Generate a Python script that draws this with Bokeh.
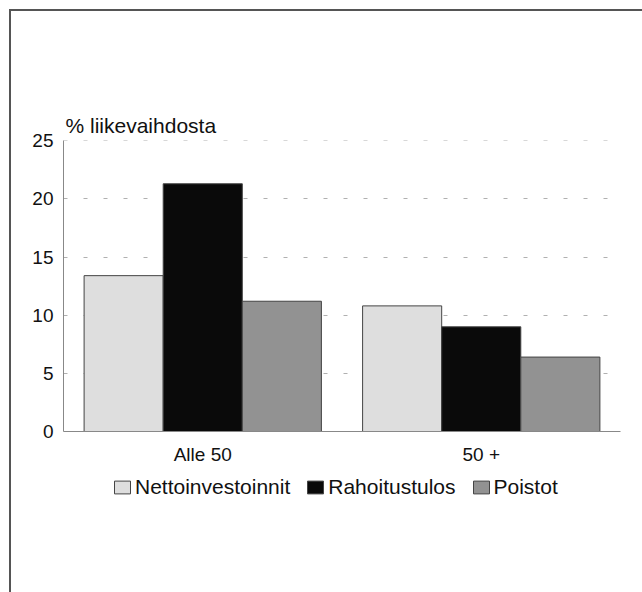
from bokeh.plotting import figure
from bokeh.models import FactorRange, ColumnDataSource, Legend, LegendItem, Range1d
from bokeh.layouts import column
from bokeh.transform import dodge
from bokeh.embed import file_html
from bokeh.resources import INLINE

categories = ["Alle 50", "50 +"]
series_names = ["Nettoinvestoinnit", "Rahoitustulos", "Poistot"]
nettoinvestoinnit = [13.4, 10.8]
rahoitustulos = [21.3, 9.0]
poistot = [11.2, 6.4]
y_ticks = [0, 5, 10, 15, 20, 25]
y_title = "% liikevaihdosta"

FONT = "Liberation Sans"
colors = ["#dedede", "#0a0a0a", "#929292"]
cols = ["netto", "rahoitus", "poistot"]

source = ColumnDataSource(data=dict(
    cat=categories,
    netto=nettoinvestoinnit,
    rahoitus=rahoitustulos,
    poistot=poistot,
))

p = figure(
    x_range=FactorRange(factors=categories, range_padding=0),
    y_range=(0, 25.02),
    frame_width=557, frame_height=291,
    min_border_left=52, min_border_right=22,
    min_border_top=129, min_border_bottom=40,
    output_backend="svg", toolbar_location=None,
    title=y_title,
)

p.title.text_font = FONT
p.title.text_font_size = "21px"
p.title.text_font_style = "normal"
p.title.align = "left"
p.title.offset = 2
p.title.standoff = 8
p.title.text_color = "#111111"

w = 0.284
offsets = [-w, 0.0, w]
for col, off, color in zip(cols, offsets, colors):
    p.vbar(x=dodge("cat", off, range=p.x_range), top=col, width=w, source=source,
           fill_color=color, line_color="#444444", line_width=1)

p.yaxis.ticker = y_ticks
p.yaxis.major_tick_line_color = None
p.yaxis.minor_tick_line_color = None
p.yaxis.major_tick_out = 0
p.yaxis.major_label_standoff = 10
p.yaxis.axis_line_color = "#888888"
p.yaxis.major_label_text_font = FONT
p.yaxis.major_label_text_font_size = "19px"
p.yaxis.major_label_text_color = "#111111"

p.xaxis.major_tick_line_color = None
p.xaxis.major_tick_out = 0
p.xaxis.major_label_standoff = 12
p.xaxis.axis_line_color = "#888888"
p.xaxis.major_label_text_font = FONT
p.xaxis.major_label_text_font_size = "19px"
p.xaxis.major_label_text_color = "#111111"

p.xgrid.grid_line_color = None
p.ygrid.grid_line_color = "#b0b0b0"
p.ygrid.grid_line_dash = "4 16"
p.ygrid.grid_line_width = 1
p.outline_line_color = None

# legend strip as a second figure (its bars lie outside its visible range)
lg = figure(width=631, height=121, min_border=0,
            x_range=Range1d(0, 1), y_range=Range1d(0, 1),
            output_backend="svg", toolbar_location=None)
lg.axis.visible = False
lg.grid.visible = False
lg.outline_line_color = None
dummy = ColumnDataSource(data=dict(x=[-5], top=[-5]))
leg_renderers = []
for color in colors:
    r = lg.vbar(x="x", top="top", width=0.1, source=dummy,
                fill_color=color, line_color="#444444", line_width=1)
    leg_renderers.append(r)

legend = Legend(items=[LegendItem(label=n, renderers=[r]) for n, r in zip(series_names, leg_renderers)],
                orientation="horizontal", location=(49, 93))
legend.label_text_font = FONT
legend.label_text_font_size = "21px"
legend.label_text_color = "#111111"
legend.border_line_color = None
legend.background_fill_alpha = 0
legend.glyph_width = 20
legend.glyph_height = 16
legend.label_standoff = 3
legend.spacing = 15
legend.padding = 0
legend.margin = 0
lg.add_layout(legend, "center")

layout = column(p, lg)
layout.styles = {"border-left": "2px solid #555555", "border-top": "2px solid #555555",
                 "margin-left": "9px", "margin-top": "9px"}

open("out.html", "w").write(file_html(layout, INLINE))
